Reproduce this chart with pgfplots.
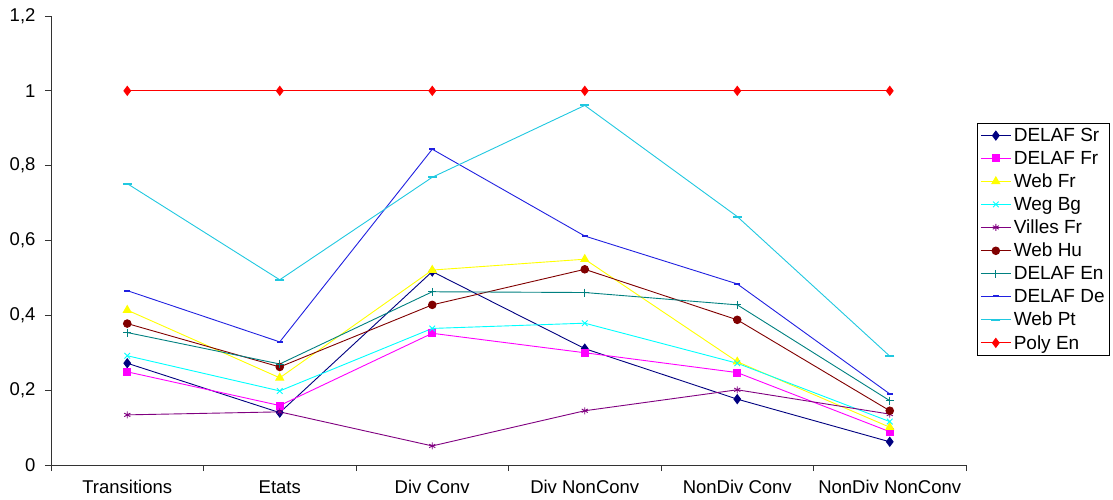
\documentclass[border=0pt]{standalone}
\usepackage{pgfplots}
\pgfplotsset{compat=1.18}
\usepackage{fontspec}
\setmainfont{Liberation Sans}
\definecolor{cNavy}{HTML}{000080}
\definecolor{cMag}{HTML}{FF00FF}
\definecolor{cYel}{HTML}{FFFF00}
\definecolor{cCyan}{HTML}{00FFFF}
\definecolor{cPurp}{HTML}{800080}
\definecolor{cDRed}{HTML}{800000}
\definecolor{cTeal}{HTML}{008080}
\definecolor{cBlue}{HTML}{2020E0}
\definecolor{cSky}{HTML}{20C8E0}
\definecolor{cRed}{HTML}{FF0000}
\begin{document}
\begin{tikzpicture}[x=1pt,y=1pt]
\path[use as bounding box] (0,0) rectangle (1113,499);
\begin{axis}[
  at={(51pt,34pt)}, anchor=south west,
  scale only axis, width=915pt, height=449pt,
  xmin=0, xmax=6, ymin=0, ymax=1.2,
  axis lines*=left,
  axis line style={black!80, line width=0.8pt},
  xtick={0,1,2,3,4,5,6}, xticklabels={,,,,,,},
  extra x ticks={0.5,1.5,2.5,3.5,4.5,5.5},
  extra x tick labels={Transitions,Etats,Div Conv,Div NonConv,NonDiv Conv,NonDiv NonConv},
  extra x tick style={tick style={draw=none}, xticklabel style={yshift=-6pt}},
  ytick={0,0.2,0.4,0.6,0.8,1,1.2},
  tick align=outside, major tick length=6pt,
  tick style={black!80, line width=0.8pt},
  /pgf/number format/.cd, use comma, assume math mode=true, /pgfplots/.cd,
  tick label style={font=\fontsize{18.5}{21}\selectfont, black},
  yticklabel style={xshift=-6pt},
  every axis plot/.append style={line width=0.9pt},
  legend style={at={(1.012,0.761)}, anchor=north west, draw=black, line width=0.8pt,
    font=\fontsize{19}{22}\selectfont, cells={anchor=west}, inner xsep=3pt, inner ysep=2.5pt,
    row sep=4.1pt, column sep=0.5pt},
  legend image code/.code={\draw[mark repeat=2,mark phase=2,#1] plot coordinates {(0pt,0pt) (15pt,0pt) (30pt,0pt)};},
]
\addplot[color=cNavy, mark=diamond*, mark size=4.5pt] coordinates {(0.5,0.272) (1.5,0.140) (2.5,0.517) (3.5,0.311) (4.5,0.176) (5.5,0.062)};
\addlegendentry{DELAF Sr}
\addplot[color=cMag, mark=square*, mark size=3.5pt] coordinates {(0.5,0.249) (1.5,0.159) (2.5,0.352) (3.5,0.300) (4.5,0.247) (5.5,0.089)};
\addlegendentry{DELAF Fr}
\addplot[color=cYel, mark=triangle*, mark size=4.5pt] coordinates {(0.5,0.414) (1.5,0.233) (2.5,0.521) (3.5,0.550) (4.5,0.276) (5.5,0.101)};
\addlegendentry{Web Fr}
\addplot[color=cCyan, mark=x, mark size=4pt] coordinates {(0.5,0.292) (1.5,0.198) (2.5,0.365) (3.5,0.379) (4.5,0.272) (5.5,0.116)};
\addlegendentry{Weg Bg}
\addplot[color=cPurp, mark=asterisk, mark size=3.5pt] coordinates {(0.5,0.134) (1.5,0.142) (2.5,0.051) (3.5,0.145) (4.5,0.201) (5.5,0.136)};
\addlegendentry{Villes Fr}
\addplot[color=cDRed, mark=*, mark size=3.8pt] coordinates {(0.5,0.378) (1.5,0.262) (2.5,0.428) (3.5,0.523) (4.5,0.388) (5.5,0.145)};
\addlegendentry{Web Hu}
\addplot[color=cTeal, mark=+, mark size=4pt] coordinates {(0.5,0.354) (1.5,0.270) (2.5,0.463) (3.5,0.461) (4.5,0.428) (5.5,0.172)};
\addlegendentry{DELAF En}
\addplot[color=cBlue, mark=-, mark size=3pt, mark options={line width=2pt}] coordinates {(0.5,0.466) (1.5,0.329) (2.5,0.844) (3.5,0.612) (4.5,0.484) (5.5,0.190)};
\addlegendentry{DELAF De}
\addplot[color=cSky, mark=-, mark size=4.5pt, mark options={line width=2pt}] coordinates {(0.5,0.752) (1.5,0.495) (2.5,0.769) (3.5,0.961) (4.5,0.664) (5.5,0.291)};
\addlegendentry{Web Pt}
\addplot[color=cRed, mark=diamond*, mark size=4.5pt] coordinates {(0.5,1) (1.5,1) (2.5,1) (3.5,1) (4.5,1) (5.5,1)};
\addlegendentry{Poly En}
\end{axis}
\end{tikzpicture}
\end{document}
